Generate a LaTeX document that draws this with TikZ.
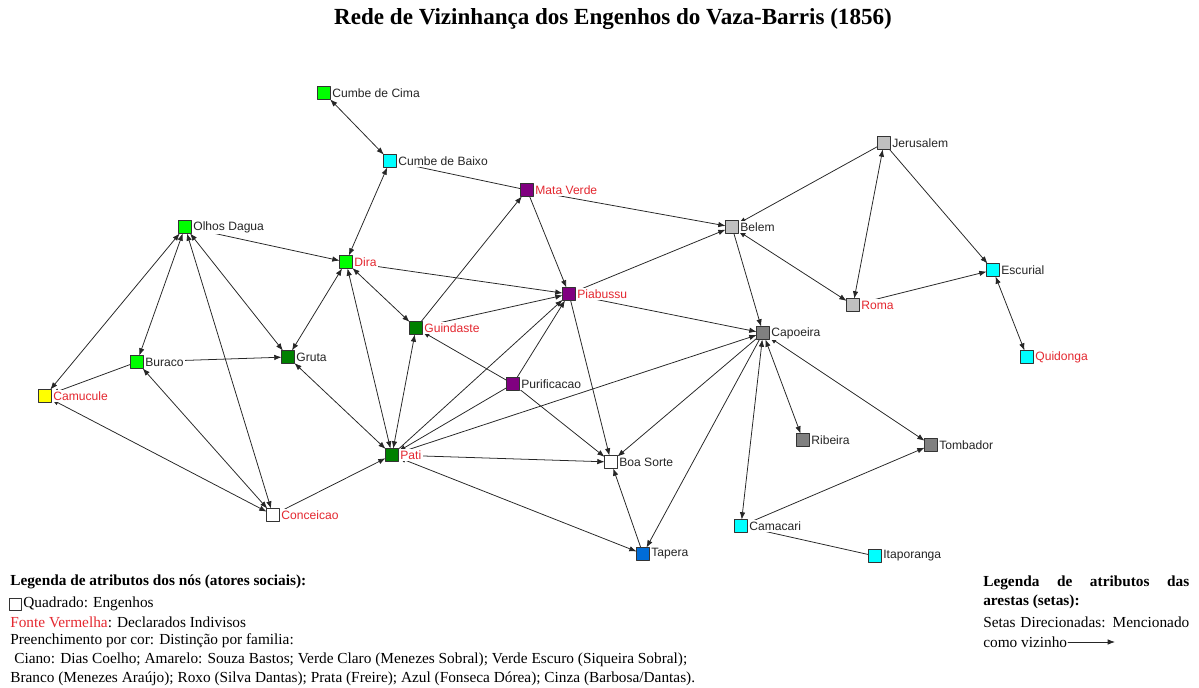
\documentclass[tikz,border=0pt]{standalone}
\usepackage{fontspec}
\setmainfont{Liberation Serif}
\newfontfamily\lblfont{Liberation Sans}
\usetikzlibrary{arrows.meta,positioning,backgrounds}

\definecolor{lgreen}{RGB}{0,255,0}
\definecolor{dgreen}{RGB}{0,128,0}
\definecolor{cyanfill}{RGB}{0,255,255}
\definecolor{purplefill}{RGB}{128,0,128}
\definecolor{silverfill}{RGB}{192,192,192}
\definecolor{grayfill}{RGB}{128,128,128}
\definecolor{bluefill}{RGB}{0,108,215}
\definecolor{yellowfill}{RGB}{255,255,0}
\definecolor{lblred}{RGB}{228,40,48}

\begin{document}
\begin{tikzpicture}[x=0.025cm, y=-0.025cm, >=Latex, line cap=round, line join=round]

% ------------------------------------------------
% Styles
% ------------------------------------------------
\tikzset{
    eng/.style={draw=black!80, line width=0.5pt, minimum size=0.32cm, inner sep=0pt, outer sep=0pt, label distance=0pt},
    lbl/.style={font=\lblfont\fontsize{8.6pt}{10pt}\selectfont, text=black!85, fill=white, inner sep=1.2pt},
    rlbl/.style={lbl, text=lblred},
    link/.style={-{Latex[length=5.2pt,width=3.9pt]}, line width=0.55pt, black!85},
    mutual/.style={link, {Latex[length=5.2pt,width=3.9pt]}-{Latex[length=5.2pt,width=3.9pt]}},
    legtxt/.style={font=\fontsize{10.9pt}{13pt}\selectfont, inner sep=0pt, anchor=west},
    legbold/.style={font=\bfseries\fontsize{10.9pt}{13pt}\selectfont, inner sep=0pt, anchor=west},
}

\useasboundingbox (0,0) rectangle (1199,688);

% ------------------------------------------------
% Title
% ------------------------------------------------
\node[font=\bfseries\fontsize{16.4pt}{18pt}\selectfont] (title) at (613,19)
    {Rede de Vizinhança dos Engenhos do Vaza-Barris (1856)};

% ------------------------------------------------
% Engenhos
% ------------------------------------------------
\node[eng, fill=lgreen,     label={[lbl]right:Cumbe de Cima}]  (cima)  at (324,93)  {};
\node[eng, fill=cyanfill,   label={[lbl]right:Cumbe de Baixo}] (baixo) at (390,161) {};
\node[eng, fill=purplefill, label={[rlbl]right:Mata Verde}]    (mata)  at (527,190) {};
\node[eng, fill=lgreen,     label={[lbl]right:Olhos Dagua}]    (olhos) at (185,227) {};
\node[eng, fill=lgreen,     label={[rlbl]right:Dira}]          (dira)  at (346,262) {};
\node[eng, fill=silverfill, label={[lbl]right:Belem}]          (belem) at (732,227) {};
\node[eng, fill=silverfill, label={[lbl]right:Jerusalem}]      (jeru)  at (884,143) {};
\node[eng, fill=cyanfill,   label={[lbl]right:Escurial}]       (escu)  at (993,270) {};
\node[eng, fill=silverfill, label={[rlbl]right:Roma}]          (roma)  at (853,305) {};
\node[eng, fill=purplefill, label={[rlbl]right:Piabussu}]      (piab)  at (569,294) {};
\node[eng, fill=dgreen,     label={[rlbl]right:Guindaste}]     (guin)  at (416,328) {};
\node[eng, fill=grayfill,   label={[lbl]right:Capoeira}]       (capo)  at (763,333) {};
\node[eng, fill=lgreen,     label={[lbl]right:Buraco}]         (bura)  at (137,362) {};
\node[eng, fill=dgreen,     label={[lbl]right:Gruta}]          (gruta) at (288,357) {};
\node[eng, fill=cyanfill,   label={[rlbl]right:Quidonga}]      (quid)  at (1027,357) {};
\node[eng, fill=yellowfill, label={[rlbl]right:Camucule}]      (camu)  at (45,396)  {};
\node[eng, fill=purplefill, label={[lbl]right:Purificacao}]    (puri)  at (513,384) {};
\node[eng, fill=grayfill,   label={[lbl]right:Ribeira}]        (ribe)  at (803,440) {};
\node[eng, fill=grayfill,   label={[lbl]right:Tombador}]       (tomb)  at (931,445) {};
\node[eng, fill=dgreen,     label={[rlbl]right:Pati}]          (pati)  at (392,455) {};
\node[eng, fill=white,      label={[lbl]right:Boa Sorte}]      (boa)   at (611,462) {};
\node[eng, fill=white,      label={[rlbl]right:Conceicao}]     (conc)  at (273,515) {};
\node[eng, fill=cyanfill,   label={[lbl]right:Camacari}]       (cama)  at (741,526) {};
\node[eng, fill=bluefill,   label={[lbl]right:Tapera}]         (tape)  at (643,554) {};
\node[eng, fill=cyanfill,   label={[lbl]right:Itaporanga}]     (itap)  at (875,556) {};

% ------------------------------------------------
% Vizinhanca (setas)
% ------------------------------------------------
\begin{scope}[on background layer]
\foreach \a/\b in {mata/baixo, mata/belem, mata/piab, guin/mata, guin/piab,
                   puri/guin, puri/piab, puri/boa, puri/pati, dira/piab,
                   bura/gruta, bura/camu, conc/pati, pati/piab, pati/capo,
                   pati/boa, piab/boa, piab/belem, piab/capo, belem/capo,
                   jeru/belem, jeru/escu, roma/escu, capo/tape, capo/boa,
                   tape/boa, cama/tomb, itap/cama}{
    \draw[link] (\a) -- (\b);
}
% mencionados nos dois sentidos
\foreach \a/\b in {cima/baixo, dira/baixo, olhos/dira, olhos/camu, olhos/bura,
                   olhos/conc, olhos/gruta, conc/camu, conc/bura, gruta/pati,
                   gruta/dira, dira/pati, dira/guin, guin/pati, pati/tape,
                   belem/roma, jeru/roma, escu/quid, capo/ribe, capo/cama,
                   capo/tomb}{
    \draw[mutual] (\a) -- (\b);
}
\end{scope}

% ------------------------------------------------
% Legenda dos nos
% ------------------------------------------------
\node[legbold] (legA) at (10,582) {Legenda de atributos dos nós (atores sociais):};
\node[eng, fill=white, minimum size=0.3cm] (legsq) at (15,604) {};
\node[legtxt, right=1.5pt of legsq] (legB) {Quadrado: Engenhos};
\node[legtxt] (legC) at (10,622) {{\color{lblred}Fonte Vermelha}: Declarados Indivisos};
\node[legtxt] (legD) at (10,641) {Preenchimento por cor: Distinção por familia:};
\node[legtxt] (legE) at (14,660) {Ciano: Dias Coelho; Amarelo: Souza Bastos; Verde Claro (Menezes Sobral); Verde Escuro (Siqueira Sobral);};
\node[legtxt] (legF) at (10,679) {Branco (Menezes Araújo); Roxo (Silva Dantas); Prata (Freire); Azul (Fonseca Dórea); Cinza (Barbosa/Dantas).};

% ------------------------------------------------
% Legenda das arestas
% ------------------------------------------------
\node[legbold] (legG) at (983,583) {\makebox[5.15cm][s]{Legenda de atributos das}};
\node[legbold] (legH) at (983,602) {arestas (setas):};
\node[legtxt]  (legI) at (983,622) {\makebox[5.15cm][s]{Setas Direcionadas: Mencionado}};
\node[legtxt]  (legJ) at (983,642) {como vizinho};
\coordinate (arrS) at (1068,642);
\coordinate (arrE) at (1115,642);
\draw[link] (arrS) -- (arrE);

\end{tikzpicture}
\end{document}
